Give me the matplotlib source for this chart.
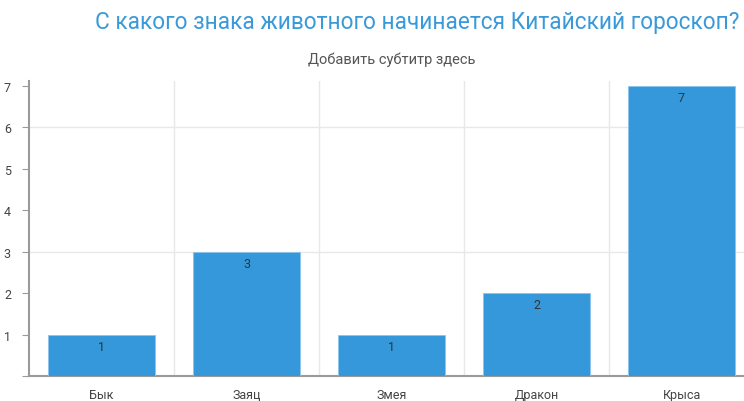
import matplotlib
matplotlib.use('Agg')
import matplotlib.pyplot as plt

categories = ['Бык', 'Заяц', 'Змея', 'Дракон', 'Крыса']
values = [1, 3, 1, 2, 7]
y_ticks = [0, 1, 2, 3, 4, 5, 6, 7]

plt.rcParams['font.family'] = ['Roboto', 'DejaVu Sans']

fig = plt.figure(figsize=(7.44, 4.02), dpi=100)
W, H = 744, 402
left, right, bottom, top = 29, 744, 377, 82
ax = fig.add_axes([left / W, (H - bottom) / H, (right - left) / W, (bottom - top) / H])

bars = ax.bar(range(len(categories)), values, width=0.74, color='#3498db',
              edgecolor='#8cc4ec', linewidth=0.6, zorder=3)
for b, v in zip(bars, values):
    ax.text(b.get_x() + b.get_width() / 2, v - 0.12, str(v), ha='center', va='top',
            fontsize=9, color='#333333', zorder=4)

ax.set_xlim(-0.5, -0.5 + (right - left) / 145)
ax.set_ylim(0, 7.12)
ax.set_yticks(y_ticks)
ax.set_yticklabels([str(t) if t else '' for t in y_ticks])
ax.set_xticks(range(len(categories)))
ax.set_xticklabels(categories)

# grid lines: category boundaries and every third unit
for x in [0.5, 1.5, 2.5, 3.5]:
    ax.axvline(x, color='#e8e8e8', linewidth=1, zorder=1)
for y in [3, 6]:
    ax.axhline(y, color='#e8e8e8', linewidth=1, zorder=1)

for s in ['top', 'right']:
    ax.spines[s].set_visible(False)
ax.spines['left'].set_color('#9a9a9a')
ax.spines['left'].set_linewidth(1.5)
ax.spines['bottom'].set_color('#9a9a9a')
ax.spines['bottom'].set_linewidth(1.5)
ax.tick_params(axis='y', length=5, color='#9a9a9a', labelsize=9, labelcolor='#444444', pad=8)
ax.tick_params(axis='x', length=0, labelsize=9, labelcolor='#444444', pad=9)

fig.text(417 / W, 1 - 23 / H, 'С какого знака животного начинается Китайский гороскоп?',
         ha='center', va='center', fontsize=16.3, color='#3a9ad9')
fig.text(392 / W, 1 - 60 / H, 'Добавить субтитр здесь', ha='center', va='center',
         fontsize=10.5, color='#555555')

fig.savefig('out.png', dpi=100)
